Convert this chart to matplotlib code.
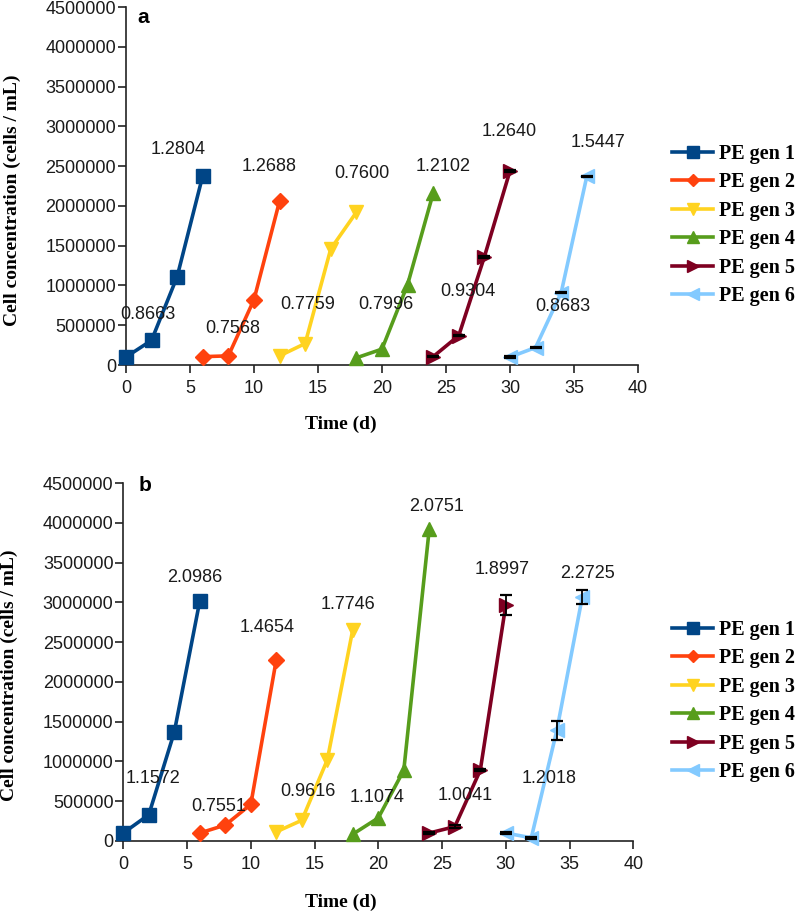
import matplotlib
matplotlib.use("Agg")
import matplotlib.pyplot as plt
import numpy as np

# sampling days of each generation
days = [
    [0, 2, 4, 6],
    [6, 8, 10, 12],
    [12, 14, 16, 18],
    [18, 20, 22, 24],
    [24, 26, 28, 30],
    [30, 32, 34, 36],
]
labels = ["PE gen 1", "PE gen 2", "PE gen 3", "PE gen 4", "PE gen 5", "PE gen 6"]

# panel a - cell concentration (cells / mL)
conc_a = [
    [100000, 310000, 1110000, 2380000],
    [105000, 115000, 820000, 2060000],
    [115000, 270000, 1460000, 1920000],
    [90000, 200000, 1010000, 2160000],
    [105000, 370000, 1360000, 2440000],
    [100000, 220000, 910000, 2370000],
]
err_a = [
    None, None, None, None,
    [10000, 10000, 10000, 10000],
    [10000, 10000, 10000, 10000],
]
# growth rate labels (low interval / high interval)
low_a = ["0.8663", "0.7568", "0.7759", "0.7996", "0.9304", "0.8683"]
high_a = ["1.2804", "1.2688", "0.7600", "1.2102", "1.2640", "1.5447"]
low_pos_a = [(1.75, 630000), (8.35, 460000), (14.2, 760000), (20.3, 760000), (26.7, 920000), (34.1, 730000)]
high_pos_a = [(4.05, 2710000), (11.2, 2500000), (18.4, 2410000), (24.8, 2500000), (29.9, 2940000), (36.9, 2800000)]

# panel b
conc_b = [
    [100000, 330000, 1370000, 3020000],
    [100000, 200000, 460000, 2280000],
    [115000, 260000, 1020000, 2660000],
    [85000, 290000, 890000, 3930000],
    [100000, 180000, 890000, 2970000],
    [100000, 40000, 1390000, 3070000],
]
err_b = [
    None, None, None, None,
    [10000, 20000, 10000, 130000],
    [10000, 10000, 115000, 90000],
]
low_b = ["1.1572", "0.7551", "0.9616", "1.1074", "1.0041", "1.2018"]
high_b = ["2.0986", "1.4654", "1.7746", "2.0751", "1.8997", "2.2725"]
low_pos_b = [(2.3, 790000), (7.5, 430000), (14.5, 620000), (19.9, 550000), (26.8, 570000), (33.4, 790000)]
high_pos_b = [(5.6, 3310000), (11.3, 2680000), (17.6, 2970000), (24.6, 4210000), (29.7, 3420000), (36.4, 3370000)]

colors = ["#004586", "#ff420e", "#ffd320", "#579d1c", "#7e0021", "#83caff"]
markers = ["s", "D", "v", "^", ">", "<"]
msizes = [10, 8, 10, 10, 10, 10]

SANS = "Liberation Sans"
SERIF = "Liberation Serif"
plt.rcParams["font.family"] = [SANS, "DejaVu Sans"]

fig = plt.figure(figsize=(7.97, 9.13), dpi=100)


def draw_panel(rect, conc, err, low, high, low_pos, high_pos, letter, letter_pos,
               ylab_pos, xlab_pos, leg_y):
    ax = fig.add_axes(rect)
    handles = []
    for i in range(6):
        h, = ax.plot(days[i], conc[i], color=colors[i], marker=markers[i],
                     markersize=msizes[i], linewidth=2.6, clip_on=False, zorder=3)
        handles.append(h)
        if err[i] is not None:
            ax.errorbar(days[i], conc[i], yerr=err[i], fmt="none", ecolor="black",
                        elinewidth=1.3, capsize=4, capthick=1.6, zorder=4, clip_on=False)
    for t, (x, y) in zip(low, low_pos):
        ax.text(x, y, t, ha="center", va="center", fontsize=13, color="#1a1a1a", zorder=5)
    for t, (x, y) in zip(high, high_pos):
        ax.text(x, y, t, ha="center", va="center", fontsize=13, color="#1a1a1a", zorder=5)

    ax.set_xlim(0, 40)
    ax.set_ylim(0, 4500000)
    ax.set_xticks(np.arange(0, 41, 5))
    ax.set_yticks(np.arange(0, 4500001, 500000))
    ax.set_yticklabels([str(v) for v in range(0, 4500001, 500000)])
    ax.spines["top"].set_visible(False)
    ax.spines["right"].set_visible(False)
    for s in ("left", "bottom"):
        ax.spines[s].set_linewidth(1.2)
        ax.spines[s].set_color("#222222")
    ax.tick_params(axis="both", labelsize=13, length=6, width=1.2, color="#222222",
                   labelcolor="#1a1a1a")
    ax.tick_params(axis="y", pad=1)
    ax.tick_params(axis="x", pad=5)

    ax.text(letter_pos[0], letter_pos[1], letter, transform=ax.transAxes,
            fontsize=15, fontweight="bold", ha="left", va="center")
    fig.text(ylab_pos[0], ylab_pos[1], "Cell concentration (cells / mL)", rotation=90,
             ha="center", va="center", fontsize=14, fontweight="bold", family=SERIF)
    fig.text(xlab_pos[0], xlab_pos[1], "Time (d)", ha="center", va="center",
             fontsize=14, fontweight="bold", family=SERIF)

    fig.legend(handles, labels, loc="center left", bbox_to_anchor=(0.843, leg_y),
               frameon=False, handlelength=2.05, handletextpad=0.3, labelspacing=0.42,
               borderaxespad=0, borderpad=0, markerscale=0.8,
               prop={"family": SERIF, "weight": "bold", "size": 14.5})
    return ax


draw_panel([0.158, 0.6002, 0.6425, 0.3921], conc_a, err_a, low_a, high_a, low_pos_a, high_pos_a,
           "a", (0.022, 0.972), (12 / 797, 1 - 200 / 913), (341 / 797, 1 - 424 / 913), 1 - 225 / 913)
draw_panel([0.1547, 0.0789, 0.6399, 0.3918], conc_b, err_b, low_b, high_b, low_pos_b, high_pos_b,
           "b", (0.030, 0.995), (9 / 797, 1 - 675 / 913), (341 / 797, 1 - 902 / 913), 1 - 701 / 913)

fig.savefig("out.png", dpi=100)
